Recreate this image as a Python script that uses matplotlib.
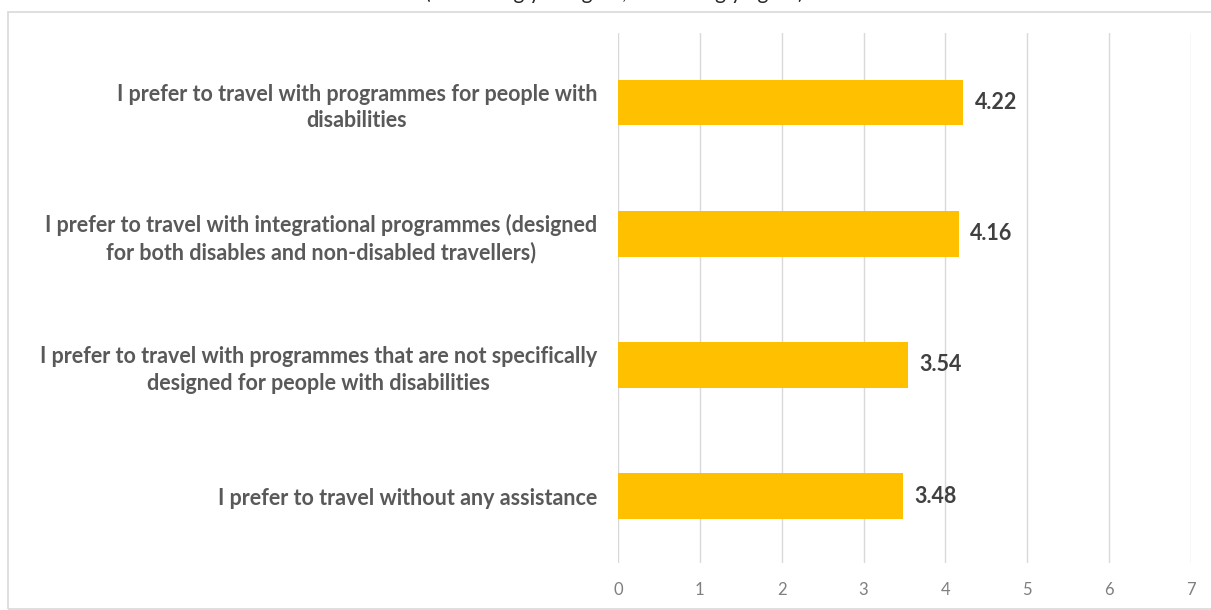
import matplotlib
matplotlib.use("Agg")
import matplotlib.pyplot as plt
from matplotlib.patches import Rectangle

# Statements (bottom to top) and their mean agreement scores
statements = [
    "I prefer to travel without any assistance",
    "I prefer to travel with programmes that are not specifically\ndesigned for people with disabilities",
    "I prefer to travel with integrational programmes (designed\nfor both disables and non-disabled travellers)",
    "I prefer to travel with programmes for people with\ndisabilities",
]
scores = [3.48, 3.54, 4.16, 4.22]
x_ticks = [0, 1, 2, 3, 4, 5, 6, 7]
scale_note = "(1 = strongly disagree, 7 = strongly agree)"

W, H = 1211, 610
fig = plt.figure(figsize=(W / 100, H / 100), dpi=100)
fig.patch.set_facecolor("white")

plt.rcParams["font.family"] = ["Lato", "DejaVu Sans"]

# Chart frame
fig.patches.append(Rectangle((8 / W, 1.5 / H), (W + 20) / W, (H - 13.5) / H,
                             transform=fig.transFigure, fill=False,
                             edgecolor="#d9d9d9", linewidth=1.2))

# Heading sits almost entirely above the top edge
fig.text(0.507, 1 + 1 / H, scale_note, ha="center", va="baseline",
         fontsize=15, color="#262626")

ax = fig.add_axes([618 / W, 1 - 563 / H, (1191 - 618) / W, (563 - 33) / H])
ypos = list(range(len(statements)))
ax.barh(ypos, scores, height=0.35, color="#FFC000", zorder=3)

for y, v in zip(ypos, scores):
    ax.text(v + 0.14, y, f"{v:.2f}", va="center", ha="left",
            fontsize=15.5, fontweight="bold", color="#404040")

ax.set_xlim(0, 7)
ax.set_ylim(-0.51, 3.53)
ax.set_xticks(x_ticks)
ax.set_xticklabels([str(t) for t in x_ticks])
ax.set_yticks(ypos)
ax.set_yticklabels(statements, multialignment="center")
ax.tick_params(axis="x", length=0, pad=14, labelsize=12, labelcolor="#7f7f7f")
ax.tick_params(axis="y", length=0, pad=15, labelsize=15.5, labelcolor="#595959")
for lbl in ax.get_yticklabels():
    lbl.set_fontweight("bold")
    lbl.set_linespacing(1.35)

ax.grid(axis="x", color="#d9d9d9", linewidth=1, zorder=0)
ax.grid(axis="y", visible=False)
for s in ax.spines.values():
    s.set_visible(False)

fig.savefig("out.png", dpi=100, facecolor="white")
